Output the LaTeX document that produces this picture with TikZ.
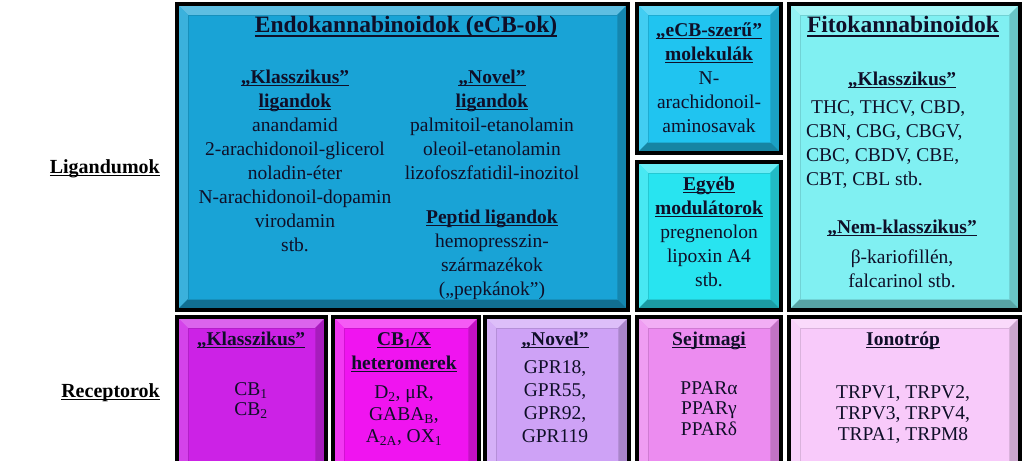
\documentclass[tikz,border=0pt]{standalone}
\usepackage{fontspec}
\setmainfont{Liberation Serif}
\definecolor{textc}{RGB}{15,15,40}
\definecolor{cEndo}{RGB}{25,163,214}
\definecolor{cEcb}{RGB}{32,196,240}
\definecolor{cEgy}{RGB}{40,228,240}
\definecolor{cFito}{RGB}{128,240,242}
\definecolor{cKlas}{RGB}{204,34,230}
\definecolor{cHet}{RGB}{240,20,240}
\definecolor{cNov}{RGB}{206,162,246}
\definecolor{cSejt}{RGB}{236,140,240}
\definecolor{cIono}{RGB}{248,202,250}
\newcommand\myul[1]{\setbox0=\hbox{#1}\rlap{\rule[-3.2pt]{\wd0}{1.3pt}}\box0}
\newcommand\myulT[1]{\setbox0=\hbox{#1}\rlap{\rule[-3.8pt]{\wd0}{1.7pt}}\box0}
\newcommand\bevbox[5]{%
  \fill[#5] (#1,#2) rectangle (#3,#4);
  \fill[#5!70!white] (#1+4,#2+4) -- (#3-4,#2+4) -- (#3-13,#2+13) -- (#1+13,#2+13) -- cycle;
  \fill[#5!85!white] (#1+4,#2+4) -- (#1+13,#2+13) -- (#1+13,#4-13) -- (#1+4,#4-4) -- cycle;
  \fill[#5!82!black] (#3-4,#2+4) -- (#3-4,#4-4) -- (#3-13,#4-13) -- (#3-13,#2+13) -- cycle;
  \fill[#5!68!black] (#1+4,#4-4) -- (#3-4,#4-4) -- (#3-13,#4-13) -- (#1+13,#4-13) -- cycle;
  \draw[#5!88!black, line width=0.5] (#1+13,#2+13) rectangle (#3-13,#4-13);
  \draw[black, line width=4] (#1+2,#2+2) rectangle (#3-2,#4-2);
}
\begin{document}
\begin{tikzpicture}[x=1pt,y=-1pt,
  txt/.style={text=textc, align=center, inner sep=0pt, font=\fontsize{19.5}{24}\selectfont},
  ttl/.style={text=textc, inner sep=0pt, font=\fontsize{23.5}{28}\selectfont\bfseries},
  lab/.style={text=black, inner sep=0pt, font=\fontsize{20}{24}\selectfont\bfseries}]
\useasboundingbox (0,0) rectangle (1024,460);
\fill[white] (0,0) rectangle (1024,460);
\clip (0,0) rectangle (1024,460);
% boxes
\bevbox{175}{2}{630}{312}{cEndo}
\bevbox{635}{2}{783}{155}{cEcb}
\bevbox{635}{160}{783}{312}{cEgy}
\bevbox{787}{2}{1022}{312}{cFito}
\bevbox{175}{315}{328}{480}{cKlas}
\bevbox{331}{315}{481}{480}{cHet}
\bevbox{483}{315}{631}{480}{cNov}
\bevbox{635}{315}{783}{480}{cSejt}
\bevbox{787}{315}{1022}{480}{cIono}
% row labels
\node[lab, anchor=base east] (lig) at (160,173) {\myul{Ligandumok}};
\node[lab, anchor=base east] (rec) at (160,397) {\myul{Receptorok}};
% Endo
\node[ttl, anchor=base] (endoT) at (406,33) {\myulT{Endokannabinoidok (eCB-ok)}};
\node[txt, anchor=north] (endoL) at (295,66.2) {\strut\myul{\textbf{„Klasszikus”}}\\\myul{\textbf{ligandok}}\\anandamid\\2-arachidonoil-glicerol\\noladin-éter\\N-arachidonoil-dopamin\\virodamin\\stb.};
\node[txt, anchor=north] (endoR1) at (492,66.2) {\strut\myul{\textbf{„Novel”}}\\\myul{\textbf{ligandok}}\\palmitoil-etanolamin\\oleoil-etanolamin\\lizofoszfatidil-inozitol};
\node[txt, anchor=north] (endoR2) at (492,206.2) {\strut\myul{\textbf{Peptid ligandok}}\\hemopresszin-\\származékok\\(„pepkánok”)};
% eCB-like
\node[txt, anchor=north] (ecb) at (709,19.2) {\strut\myul{\textbf{„eCB-szerű”}}\\\myul{\textbf{molekulák}}\\N-\\arachidonoil-\\aminosavak};
% other modulators
\node[txt, anchor=north] (egy) at (709,173.2) {\strut\myul{\textbf{Egyéb}}\\\myul{\textbf{modulátorok}}\\pregnenolon\\lipoxin A4\\stb.};
% Fito
\node[ttl, anchor=base] (fitoT) at (903,33) {\myulT{Fitokannabinoidok}};
\node[txt, anchor=north] (fitoH1) at (902,68.2) {\strut\myul{\textbf{„Klasszikus”}}};
\node[txt, anchor=north west, align=left] (fitoL1) at (806,96.2) {\strut\hspace{5pt}THC, THCV, CBD,\\CBN, CBG, CBGV,\\CBC, CBDV, CBE,\\CBT, CBL stb.};
\node[txt, anchor=north] (fitoH2) at (902,216.2) {\strut\myul{\textbf{„Nem-klasszikus”}}};
\node[txt, anchor=north] (fitoL2) at (902,246.2) {\strut β-kariofillén,\\falcarinol stb.};
% bottom row
\node[txt, anchor=north] (klH) at (251,328.2) {\strut\myul{\textbf{„Klasszikus”}}};
\node[txt, anchor=north, font=\fontsize{19.5}{20}\selectfont] (klL) at (251,381) {\strut CB\textsubscript{1}\\CB\textsubscript{2}};
\node[txt, anchor=north] (hetH) at (404,328.2) {\strut\myul{\textbf{CB\textsubscript{1}/X}}\\\myul{\textbf{heteromerek}}};
\node[txt, anchor=north, font=\fontsize{19.5}{22}\selectfont] (hetL) at (404,382.6) {\strut D\textsubscript{2}, μR,\\GABA\textsubscript{B},\\A\textsubscript{2A}, OX\textsubscript{1}};
\node[txt, anchor=north] (novH) at (555,328.2) {\strut\myul{\textbf{„Novel”}}};
\node[txt, anchor=north, font=\fontsize{19.5}{23}\selectfont] (novL) at (555,356.9) {\strut GPR18,\\GPR55,\\GPR92,\\GPR119};
\node[txt, anchor=north] (sejH) at (709,328.2) {\strut\myul{\textbf{Sejtmagi}}};
\node[txt, anchor=north, font=\fontsize{19.5}{20.5}\selectfont] (sejL) at (709,379.6) {\strut PPARα\\PPARγ\\PPARδ};
\node[txt, anchor=north] (ionH) at (903,328.2) {\strut\myul{\textbf{Ionotróp}}};
\node[txt, anchor=north, font=\fontsize{19.5}{21}\selectfont] (ionL) at (903,383.3) {\strut TRPV1, TRPV2,\\TRPV3, TRPV4,\\TRPA1, TRPM8};
\end{tikzpicture}
\end{document}
